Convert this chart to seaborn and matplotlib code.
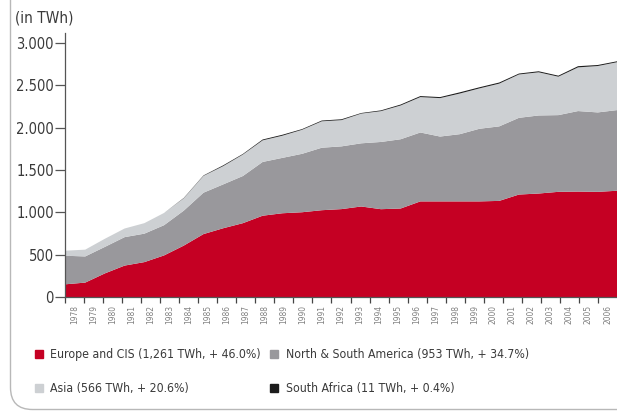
import numpy as np
import matplotlib
matplotlib.use("Agg")
import matplotlib.pyplot as plt
import seaborn as sns
from matplotlib import font_manager
from matplotlib.lines import Line2D
from matplotlib.patches import FancyBboxPatch
from matplotlib.transforms import IdentityTransform
from matplotlib.ticker import FuncFormatter, FixedLocator

# Nuclear generation by region, TWh per year
years = list(range(1978, 2007))
europe_cis = [156, 176, 285, 377, 418, 497, 613, 749, 818, 878, 966, 995, 1007, 1031,
              1044, 1075, 1043, 1051, 1135, 1135, 1135, 1135, 1141, 1216, 1228, 1248,
              1251, 1248, 1261]
americas = [337, 309, 313, 336, 336, 357, 413, 489, 518, 557, 635, 654, 690, 738,
            741, 746, 794, 818, 814, 766, 794, 858, 880, 906, 922, 906, 951, 938, 953]
asia = [60, 80, 96, 102, 124, 145, 146, 199, 216, 254, 255, 262, 284, 312, 310, 351,
        364, 399, 418, 454, 480, 477, 505, 512, 510, 454, 516, 548, 566]
south_africa = [0, 0, 0, 0, 0, 0, 4, 5, 9, 7, 10, 11, 8, 9, 10, 7, 9, 11, 12, 12, 14,
                13, 13, 11, 12, 12, 14, 12, 11]

series_labels = ["Europe and CIS (1,261 TWh, + 46.0%)",
                 "North & South America (953 TWh, + 34.7%)",
                 "Asia (566 TWh, + 20.6%)",
                 "South Africa (11 TWh, + 0.4%)"]
series_colors = ["#c50023", "#99989c", "#cdd0d3", "#1c1c1c"]
y_ticks = [0, 500, 1000, 1500, 2000, 2500, 3000]

sns.set_theme(style="white")
names = {f.name for f in font_manager.fontManager.ttflist}
if "Liberation Sans Narrow" in names:
    plt.rcParams["font.family"] = ["Liberation Sans Narrow", "DejaVu Sans"]
else:
    plt.rcParams["font.family"] = ["DejaVu Sans"]
    plt.rcParams["font.stretch"] = "condensed"

W, H = 617, 411
fig = plt.figure(figsize=(W / 100, H / 100), dpi=100)
fig.patch.set_facecolor("white")
ax = fig.add_axes([65 / W, 114 / H, 552 / W, 264 / H])
ax.set_facecolor("white")

n = len(years)
# each year owns one band; the curve runs edge to edge across the bands
x = np.linspace(0, n, n)
ax.stackplot(x, europe_cis, americas, asia, south_africa,
             colors=series_colors, linewidth=0, antialiased=True)

ax.set_xlim(0, n)
ax.set_ylim(0, 3118)

# y axis
ax.yaxis.set_major_locator(FixedLocator(y_ticks))
ax.yaxis.set_major_formatter(FuncFormatter(lambda v, p: f"{v:,.0f}".replace(",", ".")))
ax.tick_params(axis="y", which="major", direction="out", length=7, width=0.9,
               color="#555555", pad=1.0, labelsize=10.5, labelcolor="#3a3a3a", left=True)

# x axis: ticks on band edges, year labels centred in the bands
ax.xaxis.set_major_locator(FixedLocator(np.arange(0, n)))
ax.xaxis.set_major_formatter(FuncFormatter(lambda v, p: ""))
ax.xaxis.set_minor_locator(FixedLocator(np.arange(n) + 0.5))
ax.xaxis.set_minor_formatter(FuncFormatter(lambda v, p: str(years[int(v)])))
ax.tick_params(axis="x", which="major", direction="out", length=4.5, width=0.9,
               color="#444444", bottom=True)
ax.tick_params(axis="x", which="minor", length=0, pad=6, labelsize=6,
               labelcolor="#808080", labelrotation=90, bottom=True)

sns.despine(ax=ax, top=True, right=True)
for side in ("left", "bottom"):
    ax.spines[side].set_color("#555555")
    ax.spines[side].set_linewidth(0.9)
ax.grid(False)

fig.text(15 / W, 1 - 18 / H, "(in TWh)", fontsize=11, color="#3a3a3a",
         va="center", ha="left")

# legend, two rows of two entries
handles = [Line2D([], [], marker="s", linestyle="", color=c, markersize=5.5)
           for c in series_colors]
order = [0, 2, 1, 3]
fig.legend([handles[i] for i in order], [series_labels[i] for i in order],
           ncol=2, loc="upper left", bbox_to_anchor=(34 / W, 1 - 348 / H),
           frameon=False, fontsize=8.8, handlelength=0.8, handletextpad=0.55,
           columnspacing=0.65, labelspacing=1.75, borderaxespad=0, borderpad=0,
           labelcolor="#3a3a3a")

# rounded page frame, open to the top and right
frame = FancyBboxPatch((10.5, 1.5), 900, 700,
                       boxstyle="round,pad=0,rounding_size=22",
                       transform=IdentityTransform(), fill=False,
                       edgecolor="#b8b8b8", linewidth=1.0, clip_on=False)
fig.add_artist(frame)

fig.savefig("out.png", dpi=100)
